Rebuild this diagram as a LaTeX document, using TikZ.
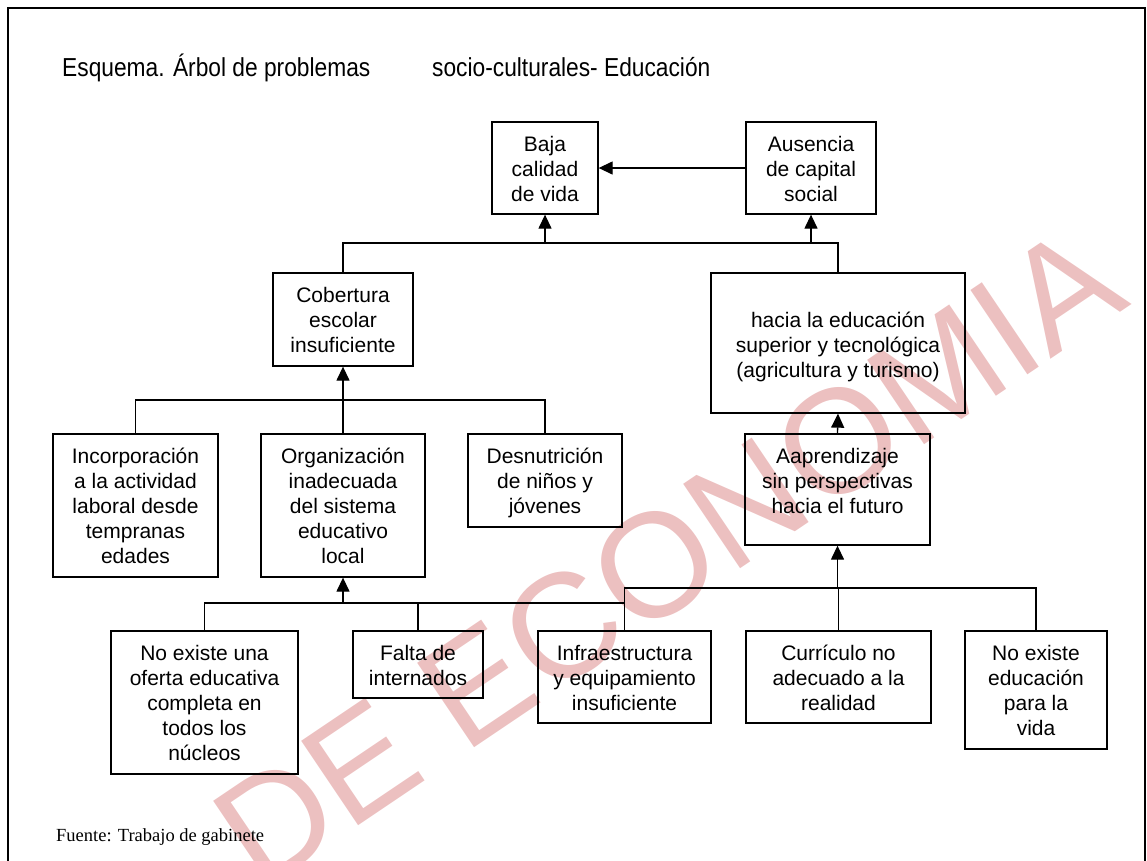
\documentclass[tikz,border=0pt]{standalone}
\usepackage{fontspec}
\setmainfont{Liberation Sans}
\newfontfamily\srcfont{Liberation Serif}
\newfontfamily\titlefont[FakeStretch=0.875]{Liberation Sans}
\usetikzlibrary{arrows.meta}
\definecolor{wmpink}{RGB}{236,192,192}
\newcommand\bxt[4]{\parbox[c][#2][t]{#1}{\centering\rule{0pt}{#3}#4}}
\begin{document}
\begin{tikzpicture}[x=1pt,y=-1pt,
  box/.style={draw, line width=1.3pt, inner sep=0pt, font=\fontsize{21}{25}\selectfont},
  ln/.style={line width=1.3pt},
  arr/.style={line width=1.3pt, -{Triangle[length=14pt,width=13pt]}},
  wm/.style={text=wmpink, font=\fontsize{148}{148}\selectfont, inner sep=0pt}]
\useasboundingbox (0,0) rectangle (1147,860);
% watermark
\node[wm, rotate=34] (wmk) at (668,556) {DE ECONOMIA};
% frame
\draw[ln] (8,880) -- (8,8) -- (1145,8) -- (1145,880);
% title and source
\node[anchor=base west, inner sep=0pt, font=\titlefont\fontsize{26}{30}\selectfont] (t1) at (62,76) {Esquema. Árbol de problemas};
\node[anchor=base west, inner sep=0pt, font=\titlefont\fontsize{26}{30}\selectfont] (t2) at (432,76) {socio-culturales- Educación};
\node[anchor=base west, inner sep=0pt, font=\srcfont\fontsize{18.5}{22}\selectfont] (src) at (56,841) {Fuente: Trabajo de gabinete};
% boxes
\node[box] (baja) at (545,168) {\bxt{106pt}{92pt}{29.5pt}{Baja\\calidad\\de vida}};
\node[box] (aus) at (811,168) {\bxt{130pt}{92pt}{29.5pt}{Ausencia\\de capital\\social}};
\node[box] (cob) at (343,319.5) {\bxt{140pt}{93pt}{29.5pt}{Cobertura\\escolar\\insuficiente}};
\node[box] (hacia) at (838,343) {\bxt{254pt}{140pt}{54pt}{hacia la educación\\superior y tecnológica\\(agricultura y turismo)}};
\node[box] (inc) at (135.5,505.5) {\bxt{165pt}{143pt}{29.5pt}{Incorporación\\a la actividad\\laboral desde\\tempranas\\edades}};
\node[box] (org) at (343,505.5) {\bxt{164pt}{143pt}{29.5pt}{Organización\\inadecuada\\del sistema\\educativo\\local}};
\node[box] (des) at (545,480.5) {\bxt{154pt}{93pt}{29.5pt}{Desnutrición\\de niños y\\jóvenes}};
\node[box] (aap) at (837.5,489.5) {\bxt{185pt}{111pt}{29.5pt}{Aaprendizaje\\sin perspectivas\\hacia el futuro}};
\node[box] (noex) at (204.5,702.5) {\bxt{187pt}{143pt}{29.5pt}{No existe una\\oferta educativa\\completa en\\todos los\\núcleos}};
\node[box] (falta) at (418,664.5) {\bxt{130pt}{67pt}{29.5pt}{Falta de\\internados}};
\node[box] (infra) at (624.5,677) {\bxt{173pt}{92pt}{29.5pt}{Infraestructura\\y equipamiento\\insuficiente}};
\node[box] (cur) at (838.5,677) {\bxt{185pt}{92pt}{29.5pt}{Currículo no\\adecuado a la\\realidad}};
\node[box] (noed) at (1036,690) {\bxt{142pt}{118pt}{29.5pt}{No existe\\educación\\para la\\vida}};
% bar levels
\coordinate (barA) at (0,243);
\coordinate (barB) at (0,400);
\coordinate (barC) at (0,603);
\coordinate (barD) at (0,588);
% connectors
\draw[arr] (aus.west) -- (baja.east);
\draw[ln] (cob.north) |- (hacia.north |- barA) -- (hacia.north);
\draw[arr] (baja.south |- barA) -- (baja.south);
\draw[arr] (aus.south |- barA) -- (aus.south);
\draw[ln] (inc.north) |- (des.north |- barB) -- (des.north);
\draw[arr] (org.north) -- (cob.south);
\draw[arr] (aap.north) -- (hacia.south);
\draw[ln] (noex.north) |- (infra.north |- barC);
\draw[ln] (falta.north) -- (falta.north |- barC);
\draw[ln] (infra.north) |- (noed.north |- barD) -- (noed.north);
\draw[ln] (cur.north) -- (cur.north |- barD);
\draw[arr] (org.south |- barC) -- (org.south);
\draw[arr] (aap.south |- barD) -- (aap.south);
\end{tikzpicture}
\end{document}
